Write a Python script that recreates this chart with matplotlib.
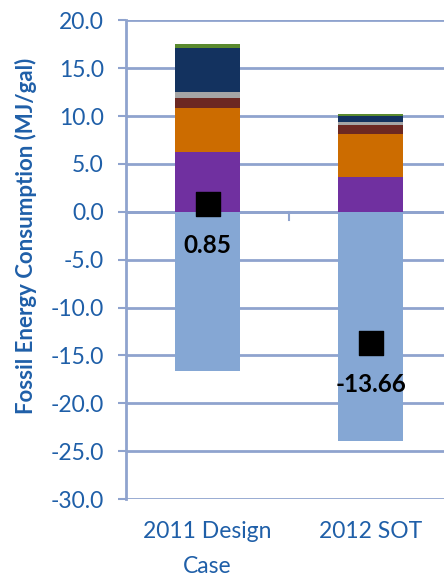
import matplotlib
matplotlib.use("Agg")
import matplotlib.pyplot as plt
import numpy as np

categories = ["2011 Design\nCase", "2012 SOT"]
seg_purple = [6.26, 3.68]
seg_orange = [4.56, 4.46]
seg_brown = [1.11, 0.94]
seg_gray = [0.60, 0.35]
seg_navy = [4.62, 0.56]
seg_green = [0.35, 0.27]
seg_credit = [-16.65, -23.92]
net_values = [0.85, -13.66]
net_labels = ["0.85", "-13.66"]
y_ticks = [20, 15, 10, 5, 0, -5, -10, -15, -20, -25, -30]

colors = {
    "purple": "#7030A0",
    "orange": "#CC6C00",
    "brown": "#6C2822",
    "gray": "#A5A5A5",
    "navy": "#13325F",
    "green": "#5A8A2E",
    "credit": "#85A7D4",
}
blue_text = "#1F5FA8"
grid_col = "#8FA3CE"

plt.rcParams['font.family'] = ['Lato', 'DejaVu Sans']

fig = plt.figure(figsize=(4.44, 5.77), dpi=100)
ax = fig.add_axes([126/444, 78/577, 326/444, 478.6/577])

x = np.arange(len(categories))
w = 0.4
bottom = np.zeros(len(categories))
for vals, c in [(seg_purple, "purple"), (seg_orange, "orange"), (seg_brown, "brown"),
                (seg_gray, "gray"), (seg_navy, "navy"), (seg_green, "green")]:
    ax.bar(x, vals, w, bottom=bottom, color=colors[c], zorder=3, linewidth=0)
    bottom += np.array(vals)
ax.bar(x, seg_credit, w, bottom=0, color=colors["credit"], zorder=3, linewidth=0)

ax.scatter(x, net_values, marker="s", s=300, color="black", zorder=5)
for xi, v, lab in zip(x, net_values, net_labels):
    ax.annotate(lab, (xi, v), xytext=(0, -30), textcoords="offset points",
                ha="center", va="center", fontsize=17.5, fontweight="bold",
                color="black", zorder=6)

ax.set_xlim(-0.5, 1.5)
ax.set_ylim(-30, 20)
ax.set_yticks(y_ticks)
ax.set_yticklabels([f"{t:.1f}" for t in y_ticks])
ax.yaxis.grid(True, color=grid_col, linewidth=2, zorder=0)
ax.set_axisbelow(True)

for s in ["top", "right", "bottom"]:
    ax.spines[s].set_visible(False)
ax.spines["left"].set_color(grid_col)
ax.spines["left"].set_linewidth(2)

ax.tick_params(axis="y", direction="out", length=6, width=1.5, color=grid_col,
               labelsize=16.5, labelcolor=blue_text, pad=10)
ax.set_xticks(x)
ax.set_xticklabels(categories, fontsize=16.5, color=blue_text, linespacing=1.8)
ax.tick_params(axis="x", length=0, pad=16)

# zero axis with category boundary ticks
ax.axhline(0, color=grid_col, linewidth=2, zorder=1)
for b in [0.5]:
    ax.plot([b, b], [0, -0.9], color=grid_col, linewidth=1.5, zorder=1, clip_on=False)

ax.set_ylabel("Fossil Energy Consumption (MJ/gal)", fontsize=16, fontweight="bold",
              color=blue_text)
ax.yaxis.set_label_coords(-(126-37)/326, (499-236)/478.6)

fig.savefig("out.png", dpi=100)
